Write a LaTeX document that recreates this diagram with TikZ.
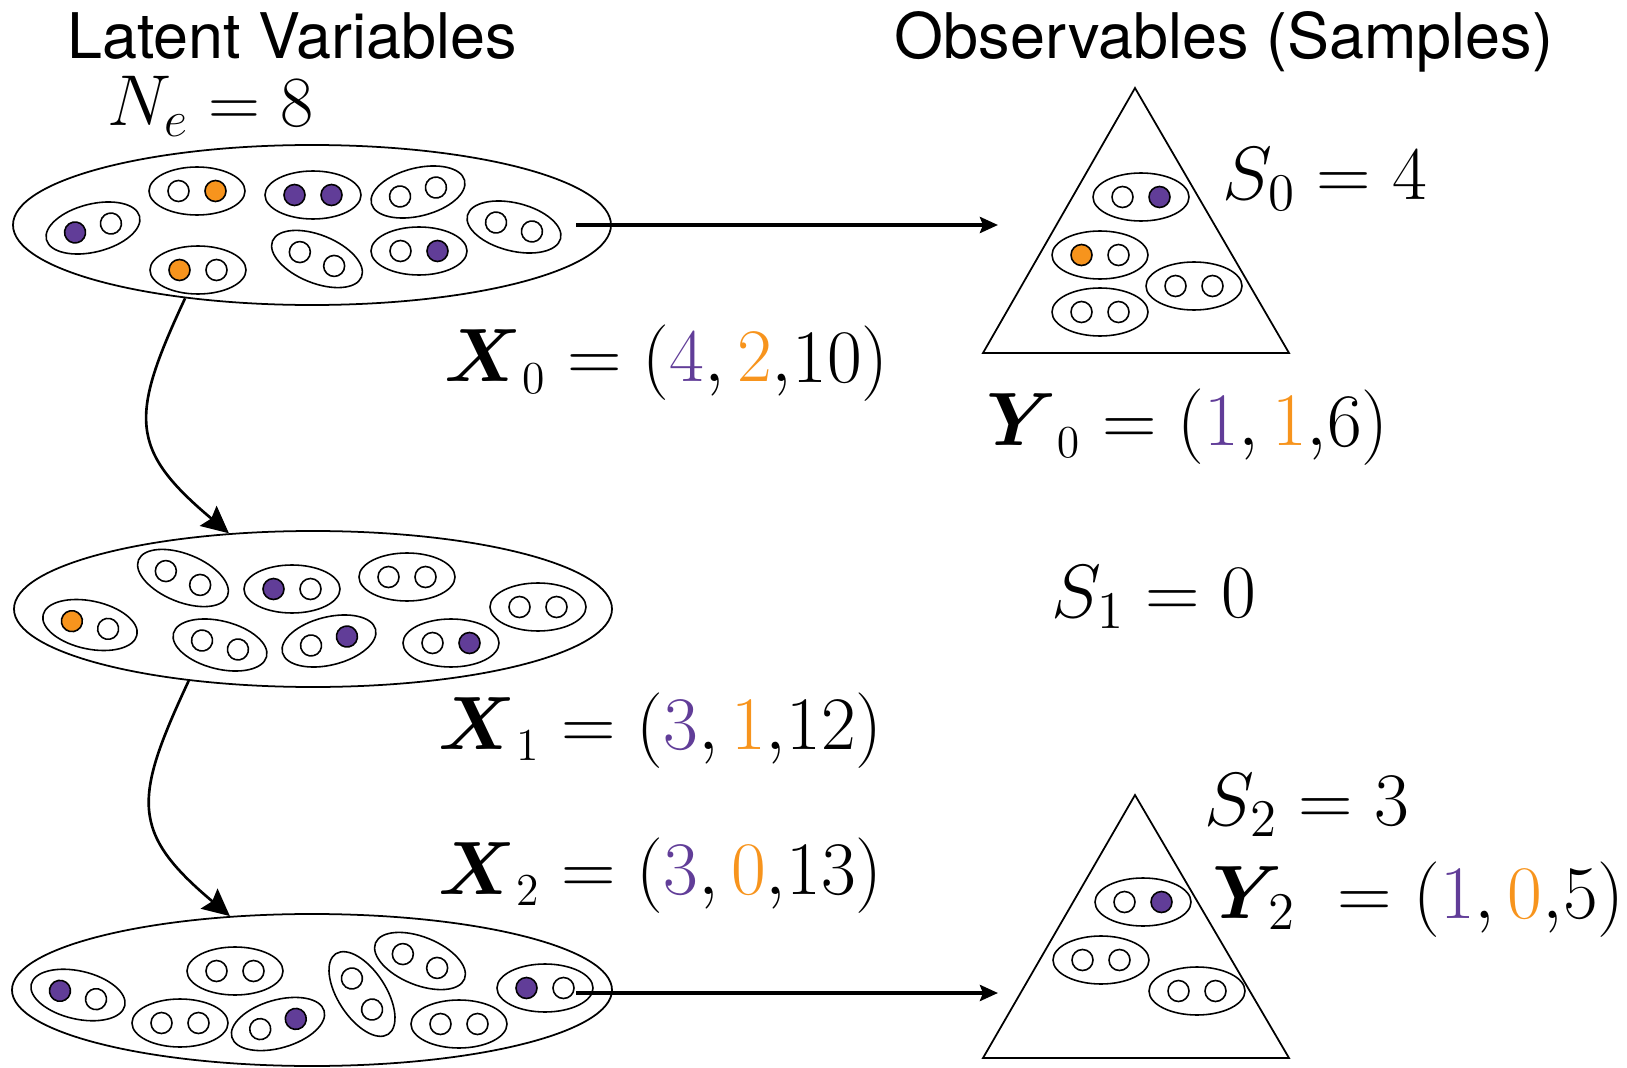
\RequirePackage{fix-cm}
\documentclass[tikz,border=0pt]{standalone}
\usepackage{amsfonts, amsmath}
\usepackage{amssymb}
\usepackage{fontspec}
\setsansfont{TeX Gyre Heros}
\usepackage{tikz}
\usetikzlibrary{shapes.geometric, arrows.meta}

\definecolor{latpurple}{HTML}{613D98}
\definecolor{latorange}{HTML}{F7941D}

\tikzset{
  genell/.style={ellipse, draw, line width=0.5pt, inner sep=0pt, minimum width=5.98cm, minimum height=1.6cm},
  pairline/.style={line width=0.45pt},
  samplebox/.style={line width=0.5pt},
  flow/.style={line width=1.1pt, -{Stealth[length=1.8mm, width=1.6mm, inset=0.3mm]}},
  evolve/.style={line width=0.75pt, -{Stealth[length=2.7mm, width=2.6mm, inset=0.4mm]}, out=245, in=140, looseness=1.4},
  eqn/.style={inner sep=0pt, font=\fontsize{21.5}{25}\selectfont},
  heading/.style={inner sep=0pt, font=\sffamily\fontsize{17.9}{21}\selectfont},
}

% one pair of dots inside a small ellipse: x, y, angle, left fill, right fill
\newcommand{\pairell}[5]{%
  \begin{scope}[shift={(#1,#2)}, rotate=#3]
    \draw[pairline] (0,0) ellipse (0.48 and 0.24);
    \draw[pairline, fill=#4] (-0.185,0) circle (0.105);
    \draw[pairline, fill=#5] (0.185,0) circle (0.105);
  \end{scope}}
\newcommand{\gensub}[1]{_{\mbox{\fontsize{13}{13}\selectfont$#1$}}}

\begin{document}
\begin{tikzpicture}[scale=1.0]
\useasboundingbox (0,0) rectangle (16.27,10.67);

% latent generations
\node[genell] (gen0) at (3.12, 8.42) {};
\node[genell, minimum height=1.56cm] (gen1) at (3.13, 4.58) {};
\node[genell, minimum width=6.0cm, minimum height=1.52cm] (gen2) at (3.12, 0.77) {};

\pairell{0.93}{8.39}{14}{latpurple}{white}
\pairell{1.97}{8.76}{0}{white}{latorange}
\pairell{3.13}{8.72}{0}{latpurple}{latpurple}
\pairell{4.18}{8.75}{14}{white}{white}
\pairell{5.14}{8.40}{-14}{white}{white}
\pairell{1.98}{7.97}{0}{latorange}{white}
\pairell{3.17}{8.08}{-22}{white}{white}
\pairell{4.19}{8.16}{0}{white}{latpurple}

\pairell{0.90}{4.42}{-12}{latorange}{white}
\pairell{1.83}{4.89}{-22}{white}{white}
\pairell{2.92}{4.78}{0}{latpurple}{white}
\pairell{4.07}{4.90}{0}{white}{white}
\pairell{5.38}{4.60}{0}{white}{white}
\pairell{2.20}{4.22}{-14}{white}{white}
\pairell{3.29}{4.26}{14}{white}{latpurple}
\pairell{4.51}{4.24}{0}{white}{latpurple}

\pairell{0.78}{0.72}{-13}{latpurple}{white}
\pairell{2.35}{0.96}{0}{white}{white}
\pairell{1.80}{0.44}{0}{white}{white}
\pairell{2.78}{0.43}{16}{white}{latpurple}
\pairell{3.62}{0.73}{-57}{white}{white}
\pairell{4.20}{1.06}{-22}{white}{white}
\pairell{4.59}{0.43}{0}{white}{white}
\pairell{5.45}{0.79}{0}{latpurple}{white}

% samples
\draw[samplebox] (11.35, 9.79) -- (9.83, 7.14) -- (12.89, 7.14) -- cycle;
\draw[samplebox] (11.35, 2.72) -- (9.83, 0.09) -- (12.89, 0.09) -- cycle;

\pairell{11.41}{8.70}{0}{white}{latpurple}
\pairell{11.00}{8.12}{0}{latorange}{white}
\pairell{11.94}{7.81}{0}{white}{white}
\pairell{11.00}{7.55}{0}{white}{white}

\pairell{11.43}{1.65}{0}{white}{latpurple}
\pairell{11.01}{1.07}{0}{white}{white}
\pairell{11.97}{0.76}{0}{white}{white}

% arrows
\coordinate (out0) at (5.76, 8.42);
\coordinate (in0) at (9.98, 8.42);
\coordinate (out2) at (5.76, 0.74);
\coordinate (in2) at (9.98, 0.74);
\draw[flow] (out0) -- (in0);
\draw[flow] (out2) -- (in2);
\draw[evolve] (gen0.210) to (gen1.138);
\draw[evolve] (gen1.210) to (gen2.138);

% labels
\node[heading, anchor=base] (latent) at (2.92, 10.08) {Latent Variables};
\node[heading, anchor=base] (observ) at (12.24, 10.08) {Observables (Samples)};
\node[eqn, font=\fontsize{20.5}{24}\selectfont, anchor=base west] (neff) at (1.07, 9.41) {$N_e = 8$};
\node[eqn, anchor=base west] (szero) at (12.22, 8.68) {$S_0 = 4$};
\node[eqn, anchor=base west] (xzero) at (4.44, 6.85) {$\boldsymbol{X}\gensub{0} = (\textcolor{latpurple}{4}, \textcolor{latorange}{2}{,}10)$};
\node[eqn, anchor=base west] (yzero) at (9.86, 6.21) {$\boldsymbol{Y}\gensub{0} = (\textcolor{latpurple}{1}, \textcolor{latorange}{1}{,}6)$};
\node[eqn, anchor=base west] (sone) at (10.51, 4.50) {$S_1 = 0$};
\node[eqn, anchor=base west] (xone) at (4.38, 3.18) {$\boldsymbol{X}\gensub{1} = (\textcolor{latpurple}{3}, \textcolor{latorange}{1}{,}12)$};
\node[eqn, anchor=base west] (xtwo) at (4.38, 1.73) {$\boldsymbol{X}\gensub{2} = (\textcolor{latpurple}{3}, \textcolor{latorange}{0}{,}13)$};
\node[eqn, anchor=base west] (stwo) at (12.04, 2.42) {$S_2 = 3$};
\node[eqn, anchor=base west] (ytwo) at (12.12, 1.49) {$\boldsymbol{Y}_{\mkern-5mu 2}\mkern5mu = (\textcolor{latpurple}{1}, \textcolor{latorange}{0}{,}5)$};

\end{tikzpicture}
\end{document}
